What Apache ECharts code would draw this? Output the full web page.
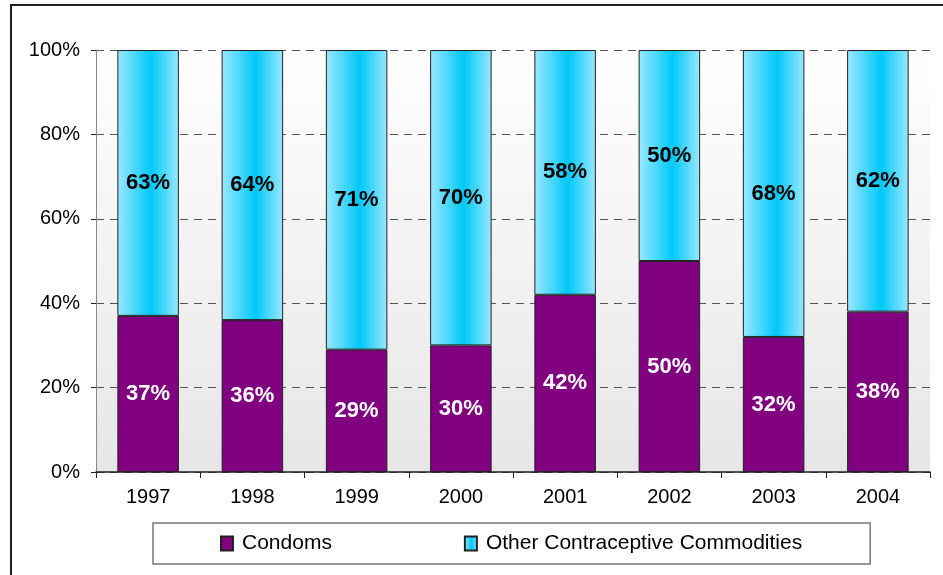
<!DOCTYPE html>
<html><head><meta charset="utf-8">
<script src="https://cdn.jsdelivr.net/npm/echarts@6/dist/echarts.min.js"></script>
<style>
html,body{margin:0;padding:0;background:#fff;overflow:hidden;}
#frame{position:absolute;left:10px;top:4px;width:1000px;height:1000px;border:2px solid #222;box-sizing:border-box;}
#c{position:absolute;left:0;top:0;width:943px;height:575px;}
</style></head>
<body>
<div id="frame"></div>
<div id="c"></div>
<script>
const categories = ['1997','1998','1999','2000','2001','2002','2003','2004'];
const condoms = [37,36,29,30,42,50,32,38];
const otherCommodities = [63,64,71,70,58,50,68,62];
const yTicks = [0,20,40,60,80,100];

const chart = echarts.init(document.getElementById('c'), null, {renderer:'canvas'});
const cyan = new echarts.graphic.LinearGradient(0,0,1,0,[
  {offset:0,color:'#9be8ff'},
  {offset:0.55,color:'#00c8f8'},
  {offset:1,color:'#99e8ff'}
]);
const ff = 'Liberation Sans, Arial, sans-serif';
chart.setOption({
  animation:false,
  textStyle:{fontFamily:ff},
  grid:{left:96,right:13,top:50,bottom:103,show:true,borderWidth:0,
    backgroundColor:new echarts.graphic.LinearGradient(0,0,0,1,[{offset:0,color:'#ffffff'},{offset:1,color:'#e6e6e6'}])},
  legend:{
    left:153, top:523,
    padding:[10,68,10,67],
    itemGap:132, itemWidth:12, itemHeight:14, icon:'rect',
    borderColor:'#777', borderWidth:1.5,
    textStyle:{fontSize:21,color:'#000',fontFamily:ff,padding:[0,0,0,4]},
    data:['Condoms','Other Contraceptive Commodities']
  },
  xAxis:{
    type:'category', data:categories,
    axisLine:{lineStyle:{color:'#222',width:1.5}},
    axisTick:{show:true,length:6,lineStyle:{color:'#222'}},
    axisLabel:{fontSize:20,color:'#000',margin:15}
  },
  yAxis:{
    type:'value', min:0, max:100, interval:20,
    axisLine:{show:true,lineStyle:{color:'#888',width:1}},
    axisTick:{show:true,length:5,lineStyle:{color:'#222'}},
    axisLabel:{fontSize:20,color:'#000',margin:16,formatter:v=>yTicks.includes(v)?v+'%':''},
    splitLine:{show:true,lineStyle:{color:'#555',type:[8,6],width:1}}
  },
  series:[
    {name:'Condoms',type:'bar',stack:'s',data:condoms,barCategoryGap:'41%',
     itemStyle:{color:'#800080',borderColor:'#222',borderWidth:1},
     label:{show:true,position:'inside',formatter:'{c}%',color:'#fff',fontWeight:'bold',fontSize:22}},
    {name:'Other Contraceptive Commodities',type:'bar',stack:'s',data:otherCommodities,
     itemStyle:{color:cyan,borderColor:'#222',borderWidth:1},
     label:{show:true,position:'inside',formatter:'{c}%',color:'#000',fontWeight:'bold',fontSize:22}}
  ]
});
</script>
</body></html>
